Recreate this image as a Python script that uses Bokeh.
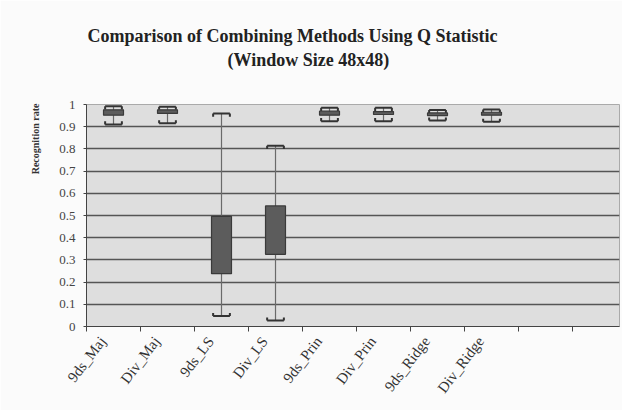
from bokeh.plotting import figure
from bokeh.models import Range1d, FixedTicker, CustomJSTickFormatter, Title, ColumnDataSource
from bokeh.embed import file_html
from bokeh.resources import INLINE
import math

categories = ["9ds_Maj", "Div_Maj", "9ds_LS", "Div_LS", "9ds_Prin", "Div_Prin", "9ds_Ridge", "Div_Ridge"]
mins = [0.91, 0.915, 0.047, 0.027, 0.925, 0.925, 0.928, 0.922]
q1 = [0.952, 0.960, 0.238, 0.325, 0.952, 0.955, 0.950, 0.952]
q3 = [0.976, 0.976, 0.496, 0.543, 0.970, 0.968, 0.962, 0.965]
maxs = [0.992, 0.990, 0.959, 0.814, 0.985, 0.985, 0.975, 0.978]
n_slots = 10
y_ticks = [0, 0.1, 0.2, 0.3, 0.4, 0.5, 0.6, 0.7, 0.8, 0.9, 1]
title_1 = "Comparison of Combining Methods Using Q Statistic"
title_2 = "(Window Size 48x48)"
y_title = "Recognition rate"

SERIF = "Liberation Serif"
xs = [i + 0.5 for i in range(len(categories))]
label_shift = 0.2
box_w = 0.37
cap_w = 0.31
leg = 0.014

src = ColumnDataSource(dict(x=xs, lo=mins, q1=q1, q3=q3, hi=maxs,
                            xl=[x - cap_w / 2 for x in xs], xr=[x + cap_w / 2 for x in xs],
                            hi_leg=[v - leg for v in maxs], lo_leg=[v + leg for v in mins]))

p = figure(width=622, height=410, output_backend="svg", toolbar_location=None,
           x_range=Range1d(0, 9.87), y_range=Range1d(0, 1), title=None,
           min_border_left=86, min_border_right=3, min_border_top=104, min_border_bottom=84,
           background_fill_color="#dedede", border_fill_color="#fbfbfb")

p.outline_line_color = "#aaaaaa"

# whiskers
p.segment(x0="x", y0="lo", x1="x", y1="hi", source=src, line_color="#6a6a6a", line_width=1.2)
# caps
for a, b, c, d in [("xl", "hi", "xr", "hi"), ("xl", "lo", "xr", "lo"),
                   ("xl", "hi", "xl", "hi_leg"), ("xr", "hi", "xr", "hi_leg"),
                   ("xl", "lo", "xl", "lo_leg"), ("xr", "lo", "xr", "lo_leg")]:
    p.segment(x0=a, y0=b, x1=c, y1=d, source=src, line_color="#333333", line_width=2)
# boxes
p.vbar(x="x", width=box_w, bottom="q1", top="q3", source=src,
       fill_color="#5c5c5c", line_color="#3a3a3a", line_width=1.2)

# grid
p.xgrid.visible = False
p.ygrid.ticker = FixedTicker(ticks=y_ticks)
p.ygrid.grid_line_color = "#555555"
p.ygrid.grid_line_width = 1.4

# y axis
p.yaxis.ticker = FixedTicker(ticks=y_ticks)
p.yaxis.formatter = CustomJSTickFormatter(code="return String(Math.round(tick*10)/10);")
p.yaxis.major_label_text_font = SERIF
p.yaxis.major_label_text_font_size = "13px"
p.yaxis.major_label_text_color = "#444444"
p.yaxis.major_tick_out = 3
p.yaxis.major_tick_in = 0
p.yaxis.minor_tick_line_color = None
p.yaxis.axis_line_color = "#444444"
p.yaxis.major_tick_line_color = "#444444"
p.yaxis.major_label_standoff = 8

# x axis
label_pos = [x - label_shift for x in xs]
p.xaxis.ticker = FixedTicker(ticks=label_pos, minor_ticks=list(range(n_slots)))
p.xaxis.major_label_overrides = {x: c for x, c in zip(label_pos, categories)}
p.xaxis.major_label_orientation = 0.92
p.xaxis.major_label_text_font = SERIF
p.xaxis.major_label_text_font_size = "15px"
p.xaxis.major_label_text_color = "#333333"
p.xaxis.major_tick_line_color = None
p.xaxis.minor_tick_out = 5
p.xaxis.minor_tick_in = 0
p.xaxis.minor_tick_line_color = "#444444"
p.xaxis.axis_line_color = "#444444"
p.xaxis.major_label_standoff = 6

# y axis title
p.add_layout(Title(text=y_title, align="right", offset=-1,
                   text_font=SERIF, text_font_size="10px", text_font_style="bold",
                   text_color="#333333", standoff=31), "left")

# chart titles: spacer nearest the frame, then second line, then first line
p.add_layout(Title(text=" ", text_font_size="1px", standoff=30), "above")
p.add_layout(Title(text=title_2, align="left", offset=141,
                   text_font=SERIF, text_font_size="18px", text_font_style="bold",
                   text_color="#222222", standoff=4), "above")
p.add_layout(Title(text=title_1, align="left", offset=1,
                   text_font=SERIF, text_font_size="18px", text_font_style="bold",
                   text_color="#222222", standoff=0), "above")

open("out.html", "w").write(file_html(p, INLINE))
